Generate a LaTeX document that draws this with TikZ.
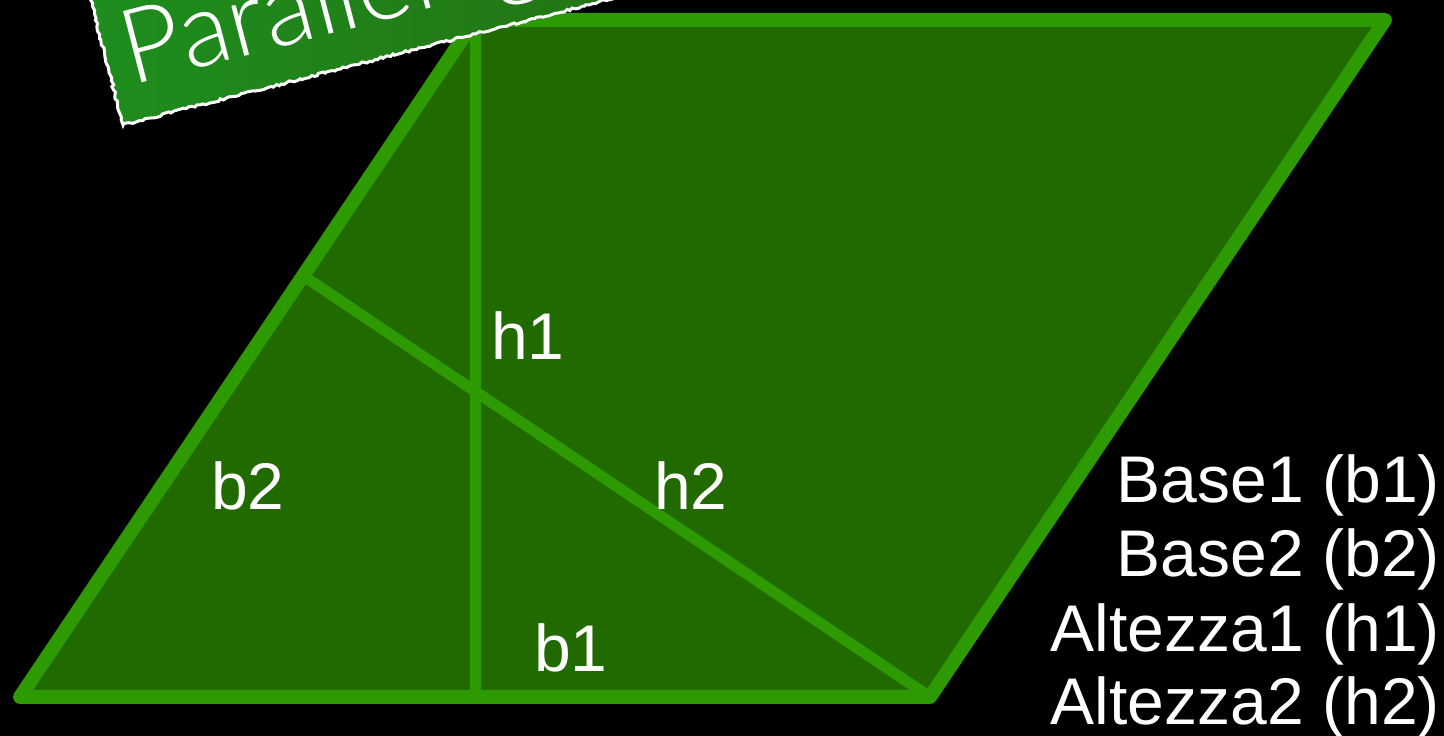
\documentclass[tikz,border=0pt]{standalone}
\usepackage{fontspec}
\setmainfont{Liberation Sans}
\newfontfamily\titlefont{Lato Light}
\usetikzlibrary{calc,decorations.pathmorphing}
\definecolor{pfill}{RGB}{32,106,0}
\definecolor{pline}{RGB}{44,154,0}
\definecolor{tleft}{RGB}{30,142,30}
\definecolor{tright}{RGB}{38,104,14}
\begin{document}
\begin{tikzpicture}[x=1pt,y=1pt,
  edge/.style={draw=pline,line width=14pt,line join=round,line cap=round},
  innerline/.style={draw=pline,line width=11pt},
  lab/.style={text=white,font=\fontsize{66}{72}\selectfont,inner sep=0pt},
  titlebox/.style={left color=tleft,right color=tright},
  roughborder/.style={draw=white,line width=3pt,decorate,
     decoration={random steps,segment length=3pt,amplitude=1.2pt}},
  titletext/.style={text=white,font=\titlefont\fontsize{104}{110}\selectfont,inner sep=0pt,transform shape}]
\fill[black] (0,0) rectangle (1444,736);
\useasboundingbox (0,0) rectangle (1444,736);
\clip (0,0) rectangle (1444,736);
% parallelogram
\coordinate (A) at (20,39);
\coordinate (B) at (930,39);
\coordinate (C) at (1385,716);
\coordinate (D) at (475,716);
\coordinate (E) at (D|-A);
\coordinate (F) at ($(A)!(B)!(D)$);
\fill[pfill] (A) -- (B) -- (C) -- (D) -- cycle;
\draw[innerline] (D) -- (E);
\draw[innerline] (B) -- (F);
\draw[edge] (A) -- (B) -- (C) -- (D) -- cycle;
% labels inside
\node[lab,anchor=base] (h1) at (528,376) {h1};
\node[lab,anchor=base] (b2) at (248,226) {b2};
\node[lab,anchor=base] (h2) at (691,226) {h2};
\node[lab,anchor=base] (b1) at (571,64) {b1};
% legend
\node[lab,anchor=base east] (l1) at (1440,233) {Base1 (b1)};
\node[lab,anchor=base east] (l2) at (1440,159) {Base2 (b2)};
\node[lab,anchor=base east] (l3) at (1440,84) {Altezza1 (h1)};
\node[lab,anchor=base east] (l4) at (1440,11) {Altezza2 (h2)};
% title banner
\begin{scope}[shift={(123,611)},rotate=14.5]
  \shade[titlebox] (0,0) rectangle (800,170);
  \draw[roughborder] (0,0) rectangle (800,170);
  \node[titletext,anchor=base west] (title) at (18,36) {Parallelogramma};
\end{scope}
\end{tikzpicture}
\end{document}
